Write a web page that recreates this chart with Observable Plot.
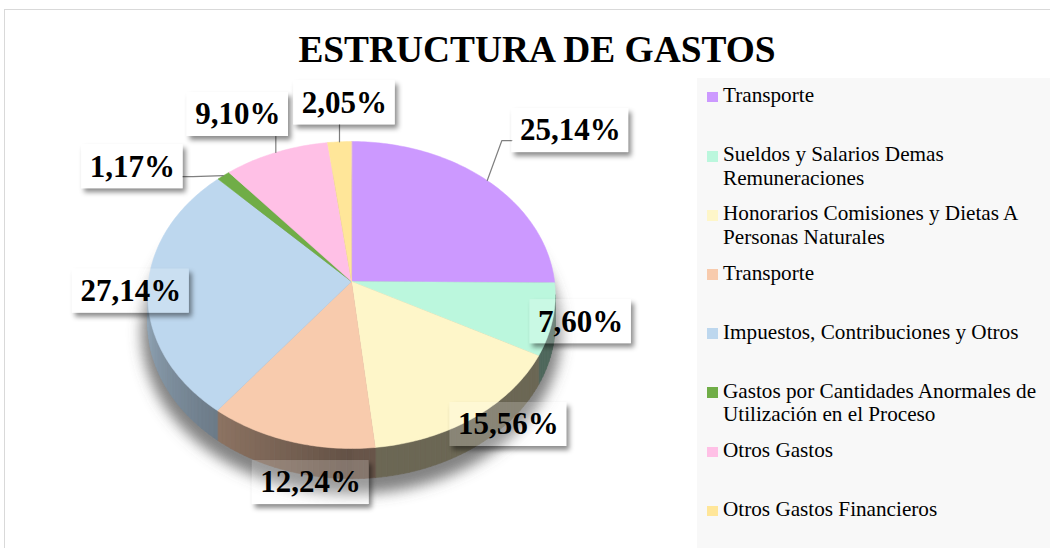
<!DOCTYPE html>
<html><head><meta charset="utf-8">
<script src="https://cdn.jsdelivr.net/npm/d3@7"></script>
<script src="https://cdn.jsdelivr.net/npm/@observablehq/plot@0.6"></script>
<style>
html,body{margin:0;padding:0;background:#fff;}
#wrap{position:relative;width:1050px;height:548px;overflow:hidden;font-family:"Liberation Serif","Times New Roman",serif;}
#frame{position:absolute;left:4px;top:9px;width:1100px;height:600px;border:1px solid #d9d9d9;box-sizing:border-box;}
#title{position:absolute;left:0;top:31px;width:1074px;text-align:center;font-weight:bold;font-size:37.4px;line-height:37px;color:#000;white-space:nowrap;}
#legend{position:absolute;left:697px;top:78px;width:360px;height:480px;background:#f8f8f8;}
.item{position:absolute;left:0;width:360px;}
.sw{position:absolute;left:10px;top:7.8px;width:10.5px;height:10.5px;}
.lt{position:absolute;left:26px;top:0;width:325px;font-size:21.2px;line-height:23.5px;color:#000;}
#chart{position:absolute;left:0;top:0;}
</style></head>
<body>
<div id="wrap"><div id="frame"></div><div id="legend"></div><div id="chart"></div><div id="title">ESTRUCTURA DE GASTOS</div></div>
<script>
// ---- data ----
const categories = [
  "Transporte",
  "Sueldos y Salarios Demas Remuneraciones",
  "Honorarios Comisiones y Dietas A Personas Naturales",
  "Transporte",
  "Impuestos, Contribuciones y Otros",
  "Gastos por Cantidades Anormales de Utilización en el Proceso",
  "Otros Gastos",
  "Otros Gastos Financieros"
];
const values = [25.14, 7.60, 15.56, 12.24, 27.14, 1.17, 9.10, 2.05];
const colors = ["#cc99ff", "#bbf7dd", "#fef6c9", "#f8cbad", "#bdd7ee", "#70ad47", "#ffc0e6", "#ffe699"];
const labelNudge = [[83,-50],[28,2],[34,7],[20,41],[-17,1],[-91,-9],[-38,-38],[5,-39]];

// ---- layout / projection of the tilted pie ----
const W = 1050, H = 548;
const cx = 351, cy = 281, R = 203, RY = 152.3, K = 0.0881, D = 27.5;
function proj(deg, r = 1, depth = 0) {
  const t = deg * Math.PI / 180;
  const X = r * Math.sin(t), Z = r * Math.cos(t);
  const w = 1 + K * Z;
  return [cx + R * X / w, cy + (-RY * Z + depth) / w];
}
const fmt = v => v.toFixed(2).replace(".", ",") + "%";

let acc = 0;
const total = d3.sum(values);
const slices = values.map((v, i) => {
  const a0 = acc / total * 360; acc += v; const a1 = acc / total * 360;
  return {i, a0, a1, mid: (a0 + a1) / 2};
});

// top faces
const topPts = [];
slices.forEach(s => {
  const n = Math.max(2, Math.ceil(s.a1 - s.a0));
  topPts.push({id: "t" + s.i, x: cx, y: cy, c: colors[s.i]});
  for (let j = 0; j <= n; j++) {
    const [x, y] = proj(s.a0 + (s.a1 - s.a0) * j / n);
    topPts.push({id: "t" + s.i, x, y, c: colors[s.i]});
  }
});

// side walls
const thR = Math.acos(-K) * 180 / Math.PI, thL = 360 - thR;
function shade(col, t) {
  const f = t >= 180 ? 0.40 + 0.38 * (t - 180) / (thL - 180) : 0.42;
  const c = d3.rgb(col);
  return d3.rgb(c.r * f, c.g * f, c.b * f).formatHex();
}
const wallPts = [];
slices.forEach(s => {
  const lo = Math.max(s.a0, thR), hi = Math.min(s.a1, thL);
  if (lo >= hi) return;
  const n = Math.max(1, Math.ceil((hi - lo) / 1.5));
  for (let j = 0; j < n; j++) {
    const t0 = lo + (hi - lo) * j / n, t1 = lo + (hi - lo) * (j + 1) / n;
    const c = shade(colors[s.i], (t0 + t1) / 2);
    const id = "w" + s.i + "_" + j;
    [proj(t0), proj(t1), proj(t1, 1, D), proj(t0, 1, D)].forEach(([x, y]) => wallPts.push({id, x, y, c}));
  }
});

// shadow under the pie
const shadowPts = d3.range(0, 360, 2).map(t => { const [x, y] = proj(t, 1.03, D + 9); return {x, y}; });

// labels
const charW = ch => ch === "%" ? 1.0 : ch === "," ? 0.25 : 0.5;
const boxes = slices.map(s => {
  const [ax, ay] = proj(s.mid);
  const label = fmt(values[s.i]);
  const tw = [...label].reduce((a, ch) => a + charW(ch), 0) * 31;
  const bw = tw + 16, bh = 44;
  const bx = ax + labelNudge[s.i][0], by = ay + labelNudge[s.i][1];
  return {i: s.i, ax, ay, label, cx: bx, cy: by, x1: bx - bw / 2, x2: bx + bw / 2, y1: by - bh / 2, y2: by + bh / 2};
});
const leaderPts = [];
boxes.forEach(b => {
  const id = "l" + b.i;
  if (b.ax > b.x2) {
    leaderPts.push({id, x: b.ax, y: b.ay}, {id, x: b.x2 + 10, y: b.cy + 10}, {id, x: b.x2, y: b.cy + 10});
  } else if (b.ax < b.x1) {
    leaderPts.push({id, x: b.ax, y: b.ay}, {id, x: b.x1 - 10, y: b.cy + 10}, {id, x: b.x1, y: b.cy + 10});
  } else if (b.ay > b.y2) {
    leaderPts.push({id, x: b.ax, y: b.ay}, {id, x: b.ax, y: b.y2});
  }
});

const serif = "Liberation Serif, Times New Roman, serif";
const plot = Plot.plot({
  width: W, height: H,
  margin: 0,
  x: {domain: [0, W], range: [0, W], axis: null},
  y: {domain: [0, H], range: [0, H], axis: null},
  color: {type: "identity"},
  style: {background: "none", overflow: "visible"},
  marks: [
    Plot.line(shadowPts, {x: "x", y: "y", curve: "linear-closed", fill: "#5a5a5a", stroke: "none", fillOpacity: 0.75, ariaDescription: "pie-shadow"}),
    Plot.line(wallPts, {x: "x", y: "y", z: "id", curve: "linear-closed", fill: "c", stroke: "c", strokeWidth: 0.6}),
    Plot.line(topPts, {x: "x", y: "y", z: "id", curve: "linear-closed", fill: "c", stroke: "c", strokeWidth: 0.5}),
    Plot.line(leaderPts, {x: "x", y: "y", z: "id", stroke: "#7f7f7f", strokeWidth: 1.2}),
    Plot.rect(boxes, {x1: "x1", x2: "x2", y1: "y1", y2: "y2", fill: "white", fillOpacity: 0.2, ariaDescription: "label-box"}),
    Plot.text(boxes, {x: "cx", y: "cy", text: "label", fontSize: 31, fontWeight: "bold", fontFamily: serif, fill: "black"})
  ]
});

const svg = d3.select(plot);
const defs = svg.insert("defs", ":first-child");
defs.append("filter").attr("id", "pieblur").attr("x", "-20%").attr("y", "-20%").attr("width", "140%").attr("height", "140%")
  .append("feGaussianBlur").attr("stdDeviation", 7);
const f = defs.append("filter").attr("id", "boxsh").attr("x", "-30%").attr("y", "-40%").attr("width", "160%").attr("height", "190%");
f.append("feComponentTransfer").attr("in", "SourceAlpha").attr("result", "a").append("feFuncA").attr("type", "linear").attr("slope", 6);
f.append("feGaussianBlur").attr("in", "a").attr("stdDeviation", 2.5).attr("result", "b");
f.append("feOffset").attr("in", "b").attr("dx", 3).attr("dy", 4).attr("result", "o");
f.append("feFlood").attr("flood-color", "#000").attr("flood-opacity", 0.45).attr("result", "fl");
f.append("feComposite").attr("in", "fl").attr("in2", "o").attr("operator", "in").attr("result", "s");
f.append("feComposite").attr("in", "s").attr("in2", "a").attr("operator", "out").attr("result", "so");
const m = f.append("feMerge"); m.append("feMergeNode").attr("in", "so"); m.append("feMergeNode").attr("in", "SourceGraphic");
svg.selectAll('[aria-description="pie-shadow"]').attr("filter", "url(#pieblur)");
svg.selectAll('[aria-description="label-box"]').attr("filter", "url(#boxsh)");
document.getElementById("chart").appendChild(plot);

// legend
const lg = d3.select("#legend");
categories.forEach((name, i) => {
  const it = lg.append("div").attr("class", "item").style("top", (84.2 - 78 + i * 59.1) + "px");
  it.append("div").attr("class", "sw").style("background", colors[i]);
  it.append("div").attr("class", "lt").text(name);
});
</script>
</body></html>
